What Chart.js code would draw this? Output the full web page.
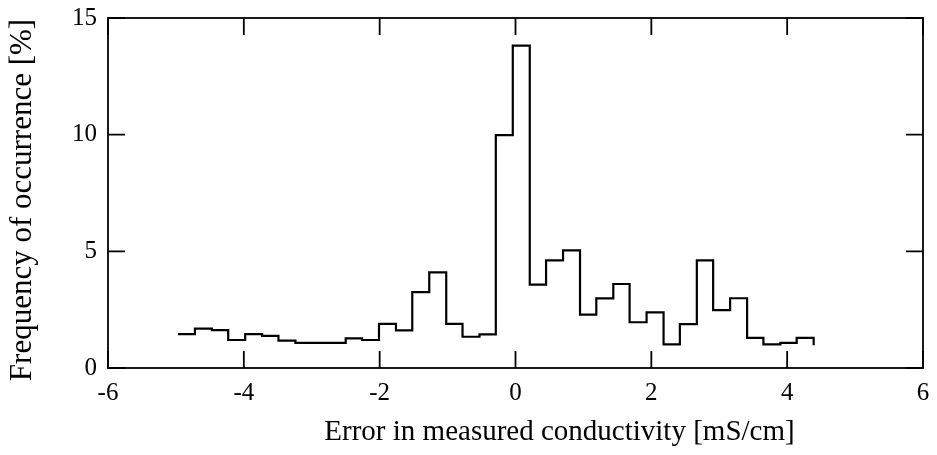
<!DOCTYPE html>
<html>
<head>
<meta charset="utf-8">
<script src="https://cdn.jsdelivr.net/npm/chart.js@4"></script>
<style>
  html, body { margin: 0; padding: 0; background: #fff; }
  #wrap { width: 937px; height: 455px; }
</style>
</head>
<body>
<div id="wrap"><canvas id="hist" width="937" height="455"></canvas></div>
<script>
// bin edges (mS/cm)
var binEdges = [-4.97, -4.72, -4.47, -4.23, -3.98, -3.73, -3.49, -3.24, -2.99, -2.75,
  -2.50, -2.26, -2.01, -1.76, -1.52, -1.27, -1.02, -0.78, -0.53, -0.29,
  -0.04, 0.21, 0.45, 0.70, 0.95, 1.19, 1.44, 1.68, 1.93, 2.18,
  2.42, 2.67, 2.91, 3.16, 3.41, 3.65, 3.90, 4.14, 4.39];
// frequency of each bin [%]
var freq = [1.45, 1.69, 1.62, 1.20, 1.45, 1.38, 1.17, 1.08, 1.08, 1.08,
  1.27, 1.20, 1.89, 1.61, 3.25, 4.10, 1.89, 1.34, 1.44, 9.98,
  13.82, 3.57, 4.61, 5.04, 2.29, 2.98, 3.60, 1.96, 2.38, 1.01,
  1.88, 4.61, 2.48, 2.99, 1.29, 1.01, 1.08, 1.29];
var endValue = 0.98; // where the last step drops to
var xTicks = [-6, -4, -2, 0, 2, 4, 6];
var yTicks = [0, 5, 10, 15];
var xTitle = 'Error in measured conductivity [mS/cm]';
var yTitle = 'Frequency of occurrence [%]';

var FONT = '"Liberation Serif", "Times New Roman", serif';

var points = binEdges.map(function (x, i) {
  return { x: x, y: i < freq.length ? freq[i] : endValue };
});

// box around the plot, inward ticks on all four sides, axis titles
var framePlugin = {
  id: 'frame',
  afterDraw: function (chart) {
    var ctx = chart.ctx;
    var a = chart.chartArea;
    var xs = chart.scales.x, ys = chart.scales.y;
    var len = 17;
    ctx.save();
    ctx.strokeStyle = '#000';
    ctx.lineWidth = 1.8;
    ctx.strokeRect(a.left, a.top, a.right - a.left, a.bottom - a.top);
    ctx.beginPath();
    xs.ticks.forEach(function (t) {
      var px = xs.getPixelForValue(t.value);
      ctx.moveTo(px, a.bottom); ctx.lineTo(px, a.bottom - len);
      ctx.moveTo(px, a.top); ctx.lineTo(px, a.top + len);
    });
    ys.ticks.forEach(function (t) {
      var py = ys.getPixelForValue(t.value);
      ctx.moveTo(a.left, py); ctx.lineTo(a.left + len, py);
      ctx.moveTo(a.right, py); ctx.lineTo(a.right - len, py);
    });
    ctx.stroke();
    ctx.fillStyle = '#000';
    ctx.textAlign = 'center';
    ctx.textBaseline = 'middle';
    ctx.font = '29px ' + FONT;
    ctx.fillText(xTitle, (a.left + a.right) / 2 + 44, 432);
    ctx.translate(23, 200);
    ctx.rotate(-Math.PI / 2);
    ctx.font = '31px ' + FONT;
    ctx.fillText(yTitle, 0, 0);
    ctx.restore();
  }
};

new Chart(document.getElementById('hist'), {
  type: 'line',
  data: {
    datasets: [{
      data: points,
      stepped: 'before',
      borderColor: '#000',
      borderWidth: 2.2,
      pointRadius: 0,
      fill: false
    }]
  },
  options: {
    responsive: false,
    animation: false,
    layout: { padding: { top: 17, right: 14, left: 0, bottom: 0 } },
    plugins: { legend: { display: false }, tooltip: { enabled: false } },
    scales: {
      x: {
        type: 'linear',
        min: -6, max: 6,
        afterBuildTicks: function (s) { s.ticks = xTicks.map(function (v) { return { value: v }; }); },
        afterFit: function (s) { s.height = 87; },
        grid: { display: false },
        border: { display: false },
        ticks: { color: '#000', padding: 2, maxRotation: 0, font: { family: FONT, size: 25 } }
      },
      y: {
        min: 0, max: 15,
        afterBuildTicks: function (s) { s.ticks = yTicks.map(function (v) { return { value: v }; }); },
        afterFit: function (s) { s.width = 108; },
        grid: { display: false },
        border: { display: false },
        ticks: { color: '#000', padding: 3, font: { family: FONT, size: 25 } }
      }
    }
  },
  plugins: [framePlugin]
});
</script>
</body>
</html>
